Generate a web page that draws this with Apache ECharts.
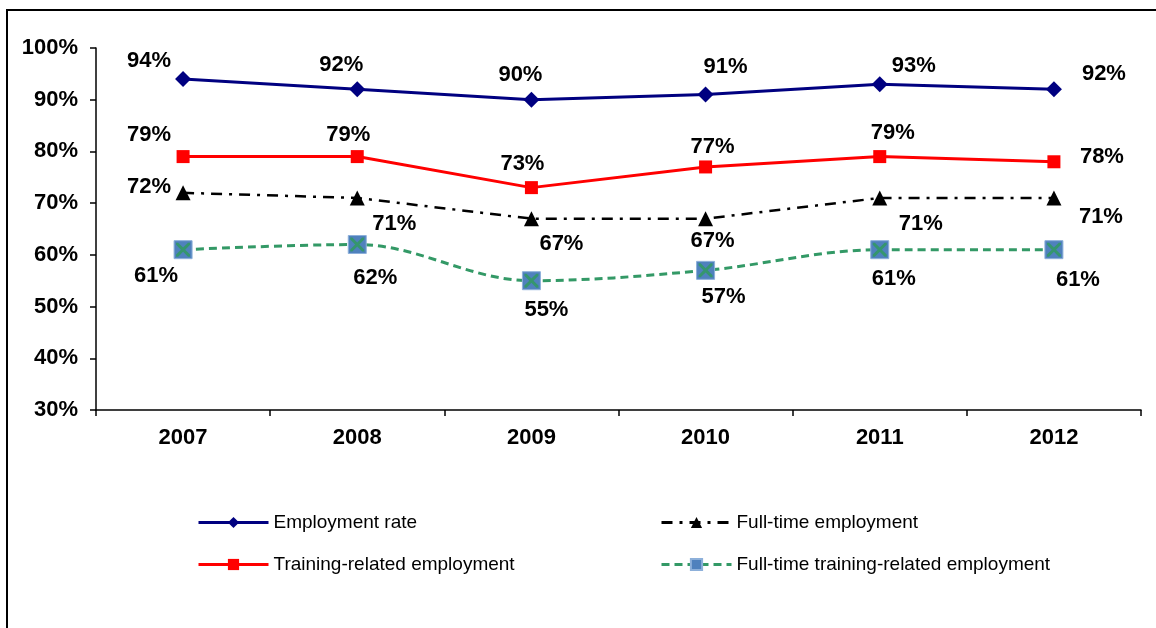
<!DOCTYPE html>
<html>
<head>
<meta charset="utf-8">
<script src="https://cdn.jsdelivr.net/npm/echarts@6/dist/echarts.min.js"></script>
<style>
html,body{margin:0;padding:0;background:#fff;}
#c{width:1156px;height:628px;}
</style>
</head>
<body>
<div id="c"></div>
<script>
// ---- data ----
const years = ['2007', '2008', '2009', '2010', '2011', '2012'];
const employmentRate = [94, 92, 90, 91, 93, 92];
const trainingRelated = [79, 79, 73, 77, 79, 78];
const fullTime = [72, 71, 67, 67, 71, 71];
const fullTimeTrainingRelated = [61, 62, 55, 57, 61, 61];
const yTicks = [30, 40, 50, 60, 70, 80, 90, 100];

// ---- label placement (style) ----
const offBlue  = [[-34,-18],[-16,-24],[-11,-25],[20,-28],[34,-18],[50,-15]];
const offRed   = [[-34,-22],[-9,-22],[-9,-24],[7,-20],[13,-24],[48,-5]];
const offBlack = [[-34,-6],[37,26],[30,25],[7,22],[41,26],[47,19]];
const offGreen = [[-27,26],[18,33],[15,29],[18,27],[14,29],[24,30]];

const labelFont = {fontFamily:'"Liberation Sans", Arial, sans-serif', fontWeight:'bold', fontSize:22, color:'#000'};

function withLabels(vals, offs){
  return vals.map((v,i)=>({value:v, label:{offset:offs[i]}}));
}
function baseLabel(){
  return Object.assign({show:true, position:'inside', align:'center', verticalAlign:'middle', formatter:'{c}%'}, labelFont);
}

const chart = echarts.init(document.getElementById('c'));
const xPath = 'path://M0,0 L3,0 L10,7 L17,0 L20,0 L20,3 L13,10 L20,17 L20,20 L17,20 L10,13 L3,20 L0,20 L0,17 L7,10 L0,3 Z';

const legendText = {fontFamily:'"Liberation Sans", Arial, sans-serif', fontSize:19, color:'#000'};
function mkLegend(name, left, top, lw){
  return {data:[name], left:left, top:top, padding:0, itemWidth:70, itemHeight:14, textStyle:legendText, selectedMode:false,
          lineStyle:{width:lw}};
}

chart.setOption({
  animation:false,
  backgroundColor:'#fff',
  graphic:[{type:'rect', shape:{x:7, y:10, width:1300, height:800}, style:{fill:'none', stroke:'#000', lineWidth:2}, silent:true, z:-1}],
  grid:{left:96, right:15, top:48, bottom:218, containLabel:false},
  legend:[
    mkLegend('Employment rate', 197, 513, 3),
    mkLegend('Full-time employment', 660, 513, 3),
    mkLegend('Training-related employment', 197, 555, 3),
    mkLegend('Full-time training-related employment', 660, 555, 3)
  ],
  xAxis:{
    type:'category', data:years, boundaryGap:true,
    axisLine:{lineStyle:{color:'#000', width:1.5}},
    axisTick:{show:true, length:6, lineStyle:{color:'#000', width:1.5}},
    axisLabel:Object.assign({margin:17}, labelFont),
    splitLine:{show:false}
  },
  yAxis:{
    type:'value', min:yTicks[0], max:yTicks[yTicks.length-1], interval:10,
    axisLine:{show:true, lineStyle:{color:'#000', width:1.5}},
    axisTick:{show:true, length:6, lineStyle:{color:'#000', width:1.5}},
    axisLabel:Object.assign({margin:18, formatter:'{value}%'}, labelFont),
    splitLine:{show:false}
  },
  series:[
    {
      name:'Employment rate', type:'line', data:withLabels(employmentRate, offBlue),
      symbol:'diamond', symbolSize:16, color:'#000080',
      lineStyle:{color:'#000080', width:3}, itemStyle:{color:'#000080'},
      label:baseLabel(), z:5
    },
    {
      name:'Training-related employment', type:'line', data:withLabels(trainingRelated, offRed),
      symbol:'rect', symbolSize:13, color:'#FF0000',
      lineStyle:{color:'#FF0000', width:3}, itemStyle:{color:'#FF0000'},
      label:baseLabel(), z:4
    },
    {
      name:'Full-time employment', type:'line', data:withLabels(fullTime, offBlack),
      symbol:'triangle', symbolSize:15, color:'#000',
      lineStyle:{color:'#000', width:2.5, type:[11,7,3,7]}, itemStyle:{color:'#000'},
      label:baseLabel(), z:3
    },
    {
      name:'Full-time training-related employment', type:'line', data:withLabels(fullTimeTrainingRelated, offGreen),
      symbol:'rect', symbolSize:18, smooth:0.35, color:'#339966',
      lineStyle:{color:'#339966', width:3, type:[8,5]},
      itemStyle:{color:'#4F81BD', borderColor:'#8DB0DA', borderWidth:1},
      label:baseLabel(), z:2
    },
    {
      name:'_x', type:'scatter', data:fullTimeTrainingRelated,
      symbol:xPath, symbolSize:14, itemStyle:{color:'#2E9B5A'},
      silent:true, z:6, label:{show:false}
    }
  ]
});
</script>
</body>
</html>
